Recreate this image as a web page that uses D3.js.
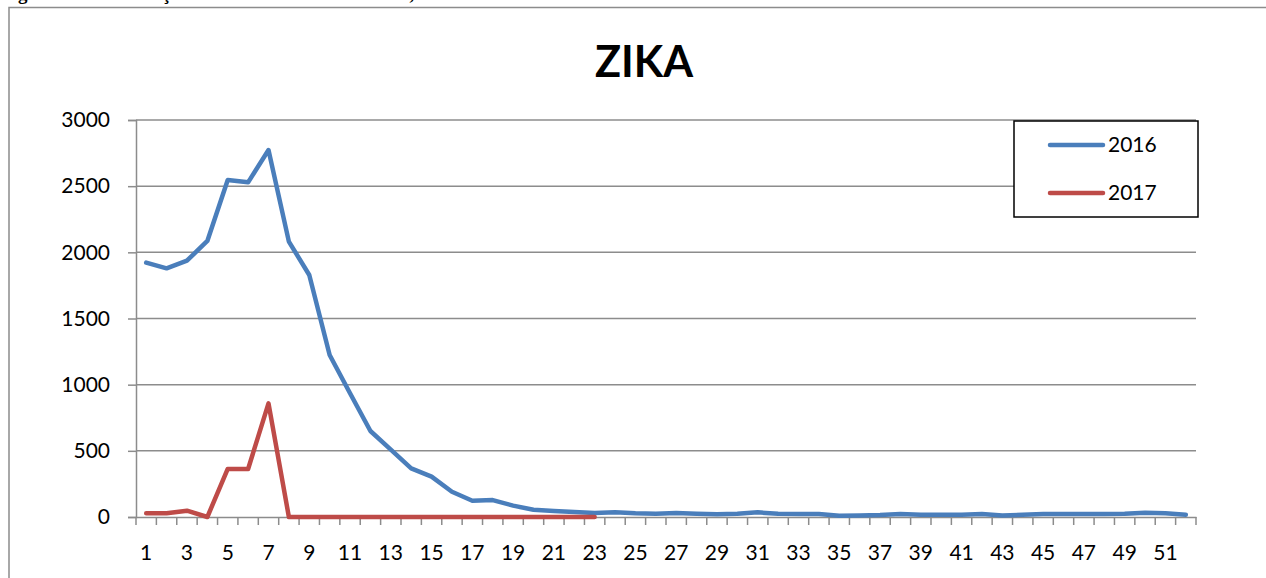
<!DOCTYPE html>
<html>
<head>
<meta charset="utf-8">
<script src="https://cdn.jsdelivr.net/npm/d3@7"></script>
<style>
  html, body { margin: 0; padding: 0; background: #fff; }
  svg { display: block; }
</style>
</head>
<body>
<svg id="chart" width="1266" height="578"></svg>
<script>
const weeks = d3.range(1, 53);
const yTicks = [0, 500, 1000, 1500, 2000, 2500, 3000];
const xTickLabels = weeks.filter(w => w % 2 === 1);

const series2016 = [1922, 1879, 1937, 2086, 2547, 2529, 2773, 2081, 1829, 1224,
  935, 650, 509, 368, 305, 191, 123, 128, 86, 55,
  45, 38, 30, 35, 28, 25, 30, 25, 20, 25,
  35, 25, 22, 22, 10, 12, 15, 22, 17, 17,
  17, 22, 12, 17, 22, 22, 22, 22, 25, 32,
  28, 17];
const series2017 = [28, 28, 48, 0, 363, 363, 859, 0, 0, 0,
  0, 0, 0, 0, 0, 0, 0, 0, 0, 0,
  0, 0, 0];

const seriesNames = ["2016", "2017"];
const seriesColors = ["#4A7EBB", "#BE4B48"];

const svg = d3.select("#chart");

// caption (cut off at the top, as in the reference)
svg.append("text")
  .attr("x", 1).attr("y", 0)
  .attr("font-family", "Liberation Serif, serif")
  .attr("font-weight", "bold")
  .attr("font-size", 19)
  .text("Figura 6 – Distribuição Semanal dos casos de Zika, Mato Grosso – 2016 e 2017.");

// outer frame
svg.append("rect")
  .attr("x", 9).attr("y", 7.5)
  .attr("width", 1300).attr("height", 600)
  .attr("fill", "none").attr("stroke", "#8c8c8c").attr("stroke-width", 1.5);

const x = d3.scaleBand().domain(weeks).range([136, 1196]).padding(0);
const y = d3.scaleLinear().domain([0, 3000]).range([517, 120]);
const cx = d => x(d) + x.bandwidth() / 2;

// gridlines
svg.append("g").selectAll("line").data(yTicks.filter(t => t > 0)).join("line")
  .attr("x1", 136).attr("x2", 1196)
  .attr("y1", d => y(d)).attr("y2", d => y(d))
  .attr("stroke", "#8c8c8c").attr("stroke-width", 1.5);

// y axis
const yAxis = svg.append("g").attr("transform", "translate(136,0)")
  .call(d3.axisLeft(y).tickValues(yTicks).tickFormat(d3.format("d")).tickSize(8).tickPadding(18));
yAxis.select(".domain").attr("stroke", "#8c8c8c").attr("stroke-width", 1.5);
yAxis.selectAll(".tick line").attr("stroke", "#8c8c8c").attr("stroke-width", 1.5);
yAxis.selectAll(".tick text")
  .attr("font-family", "Lato, sans-serif").attr("font-size", 21).attr("fill", "#000");

// x axis
const xAxis = svg.append("g").attr("transform", "translate(0,517)")
  .call(d3.axisBottom(x).tickValues([]).tickSizeOuter(0));
xAxis.select(".domain").attr("stroke", "#8c8c8c").attr("stroke-width", 1.5);
svg.append("g").selectAll("line").data(d3.range(0, 53)).join("line")
  .attr("x1", i => 136 + i * x.bandwidth()).attr("x2", i => 136 + i * x.bandwidth())
  .attr("y1", 517).attr("y2", 525)
  .attr("stroke", "#8c8c8c").attr("stroke-width", 1.5);
svg.append("g").selectAll("text").data(xTickLabels).join("text")
  .attr("x", d => cx(d)).attr("y", 560)
  .attr("text-anchor", "middle")
  .attr("font-family", "Lato, sans-serif").attr("font-size", 21).attr("fill", "#000")
  .text(d => d);

// lines
const line = d3.line().x((d, i) => cx(weeks[i])).y(d => y(d));
[series2016, series2017].forEach((s, k) => {
  svg.append("path").datum(s)
    .attr("d", line)
    .attr("fill", "none")
    .attr("stroke", seriesColors[k])
    .attr("stroke-width", 4.5)
    .attr("stroke-linejoin", "round")
    .attr("stroke-linecap", "round");
});

// title
svg.append("text")
  .attr("x", 644).attr("y", 77)
  .attr("text-anchor", "middle")
  .attr("font-family", "Lato, sans-serif").attr("font-weight", "bold")
  .attr("font-size", 43).attr("fill", "#000")
  .text("ZIKA");

// legend
const lg = svg.append("g");
lg.append("rect").attr("x", 1014).attr("y", 121).attr("width", 184).attr("height", 96)
  .attr("fill", "#fff").attr("stroke", "#000").attr("stroke-width", 1.5);
seriesNames.forEach((n, k) => {
  const ly = 145 + k * 48;
  lg.append("line").attr("x1", 1050).attr("x2", 1103).attr("y1", ly).attr("y2", ly)
    .attr("stroke", seriesColors[k]).attr("stroke-width", 4.5).attr("stroke-linecap", "round");
  lg.append("text").attr("x", 1108).attr("y", ly + 7)
    .attr("font-family", "Lato, sans-serif").attr("font-size", 21).attr("fill", "#000")
    .text(n);
});
</script>
</body>
</html>
